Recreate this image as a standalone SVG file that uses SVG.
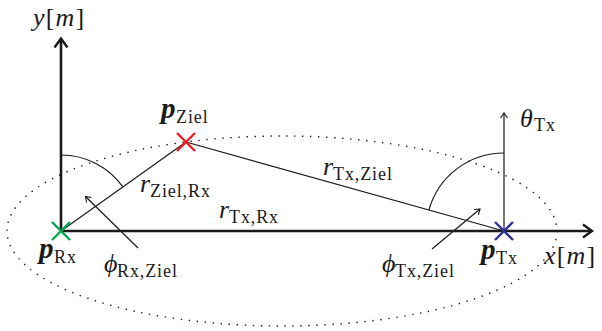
<svg xmlns="http://www.w3.org/2000/svg" width="602" height="331" viewBox="0 0 602 331">
<style>
.bg{fill:#fff}
.axis{stroke:#1a1a1a;stroke-width:2.6;fill:none}
.thin{stroke:#1a1a1a;stroke-width:1.2;fill:none}
.ell{stroke:#1a1a1a;stroke-width:1.4;fill:none;stroke-dasharray:1.4 6.6}
.cross{stroke-width:2.4;fill:none}
.mi{font-family:"Liberation Serif","Times New Roman","DejaVu Serif",serif;font-style:italic;font-size:26px;fill:#1a1a1a}
.mb{font-family:"Liberation Serif","Times New Roman","DejaVu Serif",serif;font-style:italic;font-weight:bold;font-size:29px;fill:#1a1a1a}
.up{font-style:normal}
.sub{font-family:"Liberation Serif","Times New Roman","DejaVu Serif",serif;font-size:18px;letter-spacing:0.9px;fill:#1a1a1a}
</style>
<defs>
<marker id="bigHead" markerWidth="14" markerHeight="16" refX="10" refY="8" orient="auto" markerUnits="userSpaceOnUse">
<path d="M1,1.5 L10,8 L1,14.5" fill="none" stroke="#1a1a1a" stroke-width="2.4"/>
</marker>
<marker id="smallHead" markerWidth="8" markerHeight="10" refX="6" refY="5" orient="auto" markerUnits="userSpaceOnUse">
<path d="M1,1.5 L6,5 L1,8.5" fill="none" stroke="#1a1a1a" stroke-width="1.1"/>
</marker>
</defs>
<rect class="bg" x="0" y="0" width="602" height="331"/>

<g id="ellipse">
<ellipse class="ell" cx="282" cy="231" rx="275" ry="95"/>
</g>

<g id="axes">
<line class="axis" x1="61" y1="231" x2="61" y2="38.5" marker-end="url(#bigHead)"/>
<line class="axis" x1="61" y1="231" x2="592" y2="231" marker-end="url(#bigHead)"/>
<line class="thin" x1="504" y1="231" x2="504" y2="113" marker-end="url(#smallHead)"/>
</g>

<g id="connectors">
<line class="thin" x1="61" y1="231" x2="186" y2="142"/>
<line class="thin" x1="186" y1="142" x2="504" y2="231"/>
<path class="thin" d="M61,155 A76,76 0 0 1 122.9,186.9"/>
<path class="thin" d="M504,153 A78,78 0 0 0 428.9,210"/>
<line class="thin" x1="138" y1="248" x2="85.5" y2="196.5" marker-end="url(#smallHead)"/>
<line class="thin" x1="432" y1="249" x2="480" y2="209" marker-end="url(#smallHead)"/>
</g>

<g id="node-rx">
<path class="cross" stroke="#00a651" d="M52,222 L70,240 M70,222 L52,240"/>
<text class="mb" x="39" y="258">p</text>
<text class="sub" x="54" y="263">Rx</text>
</g>

<g id="node-target">
<path class="cross" stroke="#ed1c24" d="M177,133 L195,151 M195,133 L177,151"/>
<text class="mb" x="161" y="118">p</text>
<text class="sub" x="176" y="123">Ziel</text>
</g>

<g id="node-tx">
<path class="cross" stroke="#2e3192" d="M495,222 L513,240 M513,222 L495,240"/>
<text class="mb" x="481" y="259">p</text>
<text class="sub" x="496" y="264">Tx</text>
</g>

<g id="labels">
<text class="mi" x="33" y="26" letter-spacing="1.2">y<tspan class="up">[</tspan>m<tspan class="up">]</tspan></text>
<text class="mi" x="544" y="264" letter-spacing="1.2">x<tspan class="up">[</tspan>m<tspan class="up">]</tspan></text>
<text class="mi" x="140" y="192">r</text>
<text class="sub" x="150" y="197">Ziel,Rx</text>
<text class="mi" x="219" y="218">r</text>
<text class="sub" x="229" y="223">Tx,Rx</text>
<text class="mi" x="323" y="175">r</text>
<text class="sub" x="333" y="180">Tx,Ziel</text>
<text class="mi" x="520" y="127">θ</text>
<text class="sub" x="534" y="131">Tx</text>
<text class="mi" x="104" y="272">ϕ</text>
<text class="sub" x="117" y="277">Rx,Ziel</text>
<text class="mi" x="382" y="272">ϕ</text>
<text class="sub" x="395" y="277">Tx,Ziel</text>
</g>
</svg>
